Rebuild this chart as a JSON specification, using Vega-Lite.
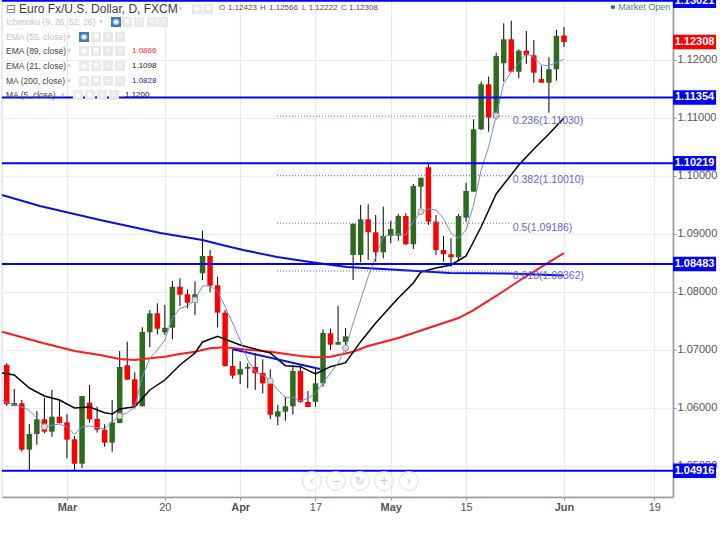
{"$schema":"https://vega.github.io/schema/vega-lite/v6.json","width":671,"height":497,"autosize":"none","padding":{"left":2,"top":0,"right":52,"bottom":46},"background":"white","view":{"stroke":"#dfe3ee","strokeWidth":1.5},"config":{"font":"Liberation Sans"},
"datasets":{
"candles":[
{"i":-8,"o":1.06741,"h":1.0677,"l":1.06034,"c":1.06063},{"i":-7,"o":1.06034,"h":1.06327,"l":1.06034,"c":1.06086},{"i":-6,"o":1.06081,"h":1.06138,"l":1.05246,"c":1.05281},{"i":-5,"o":1.05281,"h":1.05724,"l":1.04926,"c":1.05551},{"i":-4,"o":1.05551,"h":1.05948,"l":1.05367,"c":1.05805},{"i":-3,"o":1.05805,"h":1.06177,"l":1.05564,"c":1.05591},{"i":-2,"o":1.05591,"h":1.0631,"l":1.05505,"c":1.0585},{"i":-1,"o":1.0585,"h":1.06126,"l":1.05736,"c":1.05741},{"i":0,"o":1.05753,"h":1.05891,"l":1.05132,"c":1.05453},{"i":1,"o":1.0546,"h":1.05517,"l":1.04931,"c":1.05039},{"i":2,"o":1.05039,"h":1.06207,"l":1.04965,"c":1.06207},{"i":3,"o":1.06091,"h":1.06396,"l":1.05746,"c":1.05805},{"i":4,"o":1.0581,"h":1.06022,"l":1.05574,"c":1.05626},{"i":5,"o":1.05626,"h":1.05719,"l":1.05332,"c":1.05401},{"i":6,"o":1.05401,"h":1.06138,"l":1.05246,"c":1.05753},{"i":7,"o":1.05741,"h":1.06982,"l":1.05736,"c":1.06707},{"i":8,"o":1.06736,"h":1.07143,"l":1.06488,"c":1.06488},{"i":9,"o":1.06494,"h":1.06615,"l":1.05994,"c":1.06039},{"i":10,"o":1.06029,"h":1.07391,"l":1.06029,"c":1.0731},{"i":11,"o":1.07305,"h":1.07689,"l":1.07046,"c":1.07632},{"i":12,"o":1.07632,"h":1.07805,"l":1.0727,"c":1.07367},{"i":13,"o":1.07305,"h":1.07775,"l":1.07258,"c":1.07384},{"i":14,"o":1.07384,"h":1.08189,"l":1.07184,"c":1.08091},{"i":15,"o":1.08091,"h":1.08236,"l":1.07758,"c":1.07953},{"i":16,"o":1.0796,"h":1.08046,"l":1.07719,"c":1.07815},{"i":17,"o":1.07815,"h":1.08184,"l":1.07603,"c":1.0796},{"i":18,"o":1.08322,"h":1.09056,"l":1.08206,"c":1.0862},{"i":19,"o":1.0862,"h":1.08724,"l":1.07994,"c":1.08108},{"i":20,"o":1.08115,"h":1.08263,"l":1.07391,"c":1.07643},{"i":21,"o":1.07643,"h":1.07689,"l":1.06712,"c":1.06724},{"i":22,"o":1.06724,"h":1.07012,"l":1.06505,"c":1.06557},{"i":23,"o":1.06574,"h":1.06805,"l":1.06413,"c":1.06672},{"i":24,"o":1.06677,"h":1.0677,"l":1.06339,"c":1.06707},{"i":25,"o":1.06707,"h":1.06943,"l":1.0631,"c":1.06598},{"i":26,"o":1.06603,"h":1.06839,"l":1.06253,"c":1.06425},{"i":27,"o":1.06425,"h":1.06667,"l":1.0581,"c":1.05884},{"i":28,"o":1.0585,"h":1.06051,"l":1.05701,"c":1.05943},{"i":29,"o":1.05936,"h":1.06194,"l":1.05781,"c":1.06029},{"i":30,"o":1.06029,"h":1.06736,"l":1.05884,"c":1.06638},{"i":31,"o":1.06638,"h":1.06758,"l":1.06091,"c":1.06103},{"i":32,"o":1.06103,"h":1.06293,"l":1.06017,"c":1.06017},{"i":33,"o":1.06108,"h":1.06684,"l":1.06022,"c":1.06425},{"i":34,"o":1.06425,"h":1.07356,"l":1.06367,"c":1.07293},{"i":35,"o":1.07288,"h":1.07367,"l":1.07,"c":1.07091},{"i":36,"o":1.07091,"h":1.07763,"l":1.07091,"c":1.07138},{"i":37,"o":1.07138,"h":1.07379,"l":1.0697,"c":1.07236},{"i":38,"o":1.08638,"h":1.09177,"l":1.08206,"c":1.09177},{"i":39,"o":1.08638,"h":1.095,"l":1.08512,"c":1.09253},{"i":40,"o":1.09253,"h":1.09512,"l":1.08551,"c":1.09029},{"i":41,"o":1.09029,"h":1.09327,"l":1.08522,"c":1.08684},{"i":42,"o":1.08684,"h":1.0947,"l":1.08581,"c":1.08965},{"i":43,"o":1.08965,"h":1.09229,"l":1.08839,"c":1.09086},{"i":44,"o":1.0897,"h":1.09344,"l":1.08884,"c":1.0931},{"i":45,"o":1.0931,"h":1.09356,"l":1.0881,"c":1.08822},{"i":46,"o":1.08822,"h":1.09862,"l":1.08741,"c":1.09827},{"i":47,"o":1.09815,"h":1.0997,"l":1.09448,"c":1.0997},{"i":48,"o":1.1015,"h":1.10206,"l":1.09155,"c":1.09212},{"i":49,"o":1.09212,"h":1.09327,"l":1.08638,"c":1.08724},{"i":50,"o":1.08724,"h":1.08965,"l":1.08522,"c":1.0865},{"i":51,"o":1.0865,"h":1.08925,"l":1.08436,"c":1.08598},{"i":52,"o":1.08598,"h":1.09344,"l":1.08534,"c":1.0931},{"i":53,"o":1.09281,"h":1.09884,"l":1.09212,"c":1.09741},{"i":54,"o":1.09729,"h":1.10977,"l":1.09729,"c":1.10805},{"i":55,"o":1.10805,"h":1.11625,"l":1.10793,"c":1.11581},{"i":56,"o":1.11581,"h":1.11712,"l":1.10763,"c":1.11005},{"i":57,"o":1.11005,"h":1.12125,"l":1.10977,"c":1.12068},{"i":58,"o":1.11943,"h":1.12632,"l":1.11625,"c":1.12356},{"i":59,"o":1.12356,"h":1.12677,"l":1.11798,"c":1.11798},{"i":60,"o":1.11798,"h":1.12184,"l":1.11684,"c":1.1216},{"i":61,"o":1.1216,"h":1.125,"l":1.11931,"c":1.12081},{"i":62,"o":1.12081,"h":1.12344,"l":1.11608,"c":1.11781},{"i":63,"o":1.11672,"h":1.11901,"l":1.11608,"c":1.11608},{"i":64,"o":1.11608,"h":1.12046,"l":1.11091,"c":1.11839},{"i":65,"o":1.11839,"h":1.12517,"l":1.11643,"c":1.12418},{"i":66,"o":1.12423,"h":1.12566,"l":1.12222,"c":1.12308}],
"lines":[
{"series":"EMA 89","i":-8.63,"p":1.07315},{"series":"EMA 89","i":-3.2,"p":1.0712},{"series":"EMA 89","i":1,"p":1.06982},{"series":"EMA 89","i":4.4,"p":1.06913},{"series":"EMA 89","i":7,"p":1.06844},{"series":"EMA 89","i":9,"p":1.06827},{"series":"EMA 89","i":11,"p":1.06856},{"series":"EMA 89","i":13,"p":1.06884},{"series":"EMA 89","i":15,"p":1.06931},{"series":"EMA 89","i":17,"p":1.0697},{"series":"EMA 89","i":19,"p":1.07029},{"series":"EMA 89","i":21,"p":1.07046},{"series":"EMA 89","i":23,"p":1.07017},{"series":"EMA 89","i":27,"p":1.0697},{"series":"EMA 89","i":31,"p":1.06896},{"series":"EMA 89","i":33,"p":1.06874},{"series":"EMA 89","i":35,"p":1.06884},{"series":"EMA 89","i":38,"p":1.0697},{"series":"EMA 89","i":40,"p":1.07068},{"series":"EMA 89","i":44,"p":1.07206},{"series":"EMA 89","i":48,"p":1.07379},{"series":"EMA 89","i":52,"p":1.07551},{"series":"EMA 89","i":54,"p":1.07689},{"series":"EMA 89","i":57,"p":1.07931},{"series":"EMA 89","i":60,"p":1.08189},{"series":"EMA 89","i":63,"p":1.08431},{"series":"EMA 89","i":66,"p":1.08672},
{"series":"EMA 21","i":-8.63,"p":1.06603},{"series":"EMA 21","i":-7,"p":1.06568},{"series":"EMA 21","i":-5,"p":1.06344},{"series":"EMA 21","i":-3,"p":1.06207},{"series":"EMA 21","i":-1,"p":1.06138},{"series":"EMA 21","i":1,"p":1.06},{"series":"EMA 21","i":3,"p":1.06017},{"series":"EMA 21","i":5,"p":1.05919},{"series":"EMA 21","i":6,"p":1.05896},{"series":"EMA 21","i":7,"p":1.05982},{"series":"EMA 21","i":9,"p":1.06022},{"series":"EMA 21","i":11,"p":1.0631},{"series":"EMA 21","i":13,"p":1.06482},{"series":"EMA 21","i":15,"p":1.06741},{"series":"EMA 21","i":17,"p":1.06948},{"series":"EMA 21","i":18,"p":1.07138},{"series":"EMA 21","i":20,"p":1.07236},{"series":"EMA 21","i":23,"p":1.07086},{"series":"EMA 21","i":27,"p":1.06948},{"series":"EMA 21","i":29,"p":1.06729},{"series":"EMA 21","i":31,"p":1.06712},{"series":"EMA 21","i":33,"p":1.06586},{"series":"EMA 21","i":35,"p":1.06712},{"series":"EMA 21","i":37,"p":1.06781},{"series":"EMA 21","i":39,"p":1.07143},{"series":"EMA 21","i":41,"p":1.07465},{"series":"EMA 21","i":44,"p":1.07896},{"series":"EMA 21","i":46,"p":1.08155},{"series":"EMA 21","i":47,"p":1.08344},{"series":"EMA 21","i":49,"p":1.08413},{"series":"EMA 21","i":51,"p":1.08465},{"series":"EMA 21","i":53,"p":1.0862},{"series":"EMA 21","i":55,"p":1.09125},{"series":"EMA 21","i":57,"p":1.09689},{"series":"EMA 21","i":60,"p":1.10189},{"series":"EMA 21","i":62,"p":1.10465},{"series":"EMA 21","i":64,"p":1.10724},{"series":"EMA 21","i":66,"p":1.11},
{"series":"MA 200","i":-8.63,"p":1.09672},{"series":"MA 200","i":-3.6,"p":1.09482},{"series":"MA 200","i":4.4,"p":1.09241},{"series":"MA 200","i":12.4,"p":1.09017},{"series":"MA 200","i":18,"p":1.08896},{"series":"MA 200","i":20.6,"p":1.0881},{"series":"MA 200","i":23.4,"p":1.08724},{"series":"MA 200","i":27.9,"p":1.08603},{"series":"MA 200","i":33.2,"p":1.085},{"series":"MA 200","i":37.2,"p":1.08431},{"series":"MA 200","i":44.2,"p":1.08379},{"series":"MA 200","i":50.9,"p":1.08327},{"series":"MA 200","i":58.4,"p":1.0832},{"series":"MA 200","i":66,"p":1.08282},
{"series":"Trend","i":22.05,"p":1.07012},{"series":"Trend","i":33.6,"p":1.06672},
{"series":"MA 5","i":-8.63,"p":1.06138},{"series":"MA 5","i":-8,"p":1.06091},{"series":"MA 5","i":-5.6,"p":1.06},{"series":"MA 5","i":-5,"p":1.05953},{"series":"MA 5","i":-4,"p":1.05827},{"series":"MA 5","i":-3,"p":1.05677},{"series":"MA 5","i":-1,"p":1.05724},{"series":"MA 5","i":0,"p":1.05677},{"series":"MA 5","i":1,"p":1.05546},{"series":"MA 5","i":2,"p":1.05677},{"series":"MA 5","i":3,"p":1.05689},{"series":"MA 5","i":5,"p":1.05638},{"series":"MA 5","i":6,"p":1.05764},{"series":"MA 5","i":7,"p":1.05862},{"series":"MA 5","i":8,"p":1.05919},{"series":"MA 5","i":9,"p":1.06012},{"series":"MA 5","i":10,"p":1.06539},{"series":"MA 5","i":11,"p":1.06856},{"series":"MA 5","i":12,"p":1.07},{"series":"MA 5","i":13,"p":1.07172},{"series":"MA 5","i":14,"p":1.07546},{"series":"MA 5","i":15,"p":1.07719},{"series":"MA 5","i":16,"p":1.07758},{"series":"MA 5","i":17,"p":1.07862},{"series":"MA 5","i":18,"p":1.08103},{"series":"MA 5","i":19,"p":1.08103},{"series":"MA 5","i":20,"p":1.08005},{"series":"MA 5","i":21,"p":1.07746},{"series":"MA 5","i":22,"p":1.07465},{"series":"MA 5","i":23,"p":1.07172},{"series":"MA 5","i":24,"p":1.06827},{"series":"MA 5","i":25,"p":1.06625},{"series":"MA 5","i":26,"p":1.06568},{"series":"MA 5","i":27,"p":1.06465},{"series":"MA 5","i":28,"p":1.0631},{"series":"MA 5","i":29,"p":1.06184},{"series":"MA 5","i":30,"p":1.06184},{"series":"MA 5","i":31,"p":1.0612},{"series":"MA 5","i":32,"p":1.06167},{"series":"MA 5","i":33,"p":1.06253},{"series":"MA 5","i":34,"p":1.06431},{"series":"MA 5","i":35,"p":1.06603},{"series":"MA 5","i":36,"p":1.06775},{"series":"MA 5","i":37,"p":1.07034},{"series":"MA 5","i":38,"p":1.0746},{"series":"MA 5","i":39,"p":1.07862},{"series":"MA 5","i":40,"p":1.08263},{"series":"MA 5","i":41,"p":1.08608},{"series":"MA 5","i":42,"p":1.08953},{"series":"MA 5","i":43,"p":1.08982},{"series":"MA 5","i":44,"p":1.09},{"series":"MA 5","i":45,"p":1.08982},{"series":"MA 5","i":46,"p":1.09212},{"series":"MA 5","i":47,"p":1.09384},{"series":"MA 5","i":48,"p":1.09431},{"series":"MA 5","i":49,"p":1.09413},{"series":"MA 5","i":50,"p":1.0927},{"series":"MA 5","i":51,"p":1.09012},{"series":"MA 5","i":52,"p":1.08925},{"series":"MA 5","i":53,"p":1.09069},{"series":"MA 5","i":54,"p":1.095},{"series":"MA 5","i":55,"p":1.10103},{"series":"MA 5","i":56,"p":1.10505},{"series":"MA 5","i":57,"p":1.11039},{"series":"MA 5","i":58,"p":1.11598},{"series":"MA 5","i":59,"p":1.11798},{"series":"MA 5","i":60,"p":1.11943},{"series":"MA 5","i":61,"p":1.12115},{"series":"MA 5","i":62,"p":1.12046},{"series":"MA 5","i":63,"p":1.11913},{"series":"MA 5","i":64,"p":1.11901},{"series":"MA 5","i":65,"p":1.11953},{"series":"MA 5","i":66,"p":1.12012}],
"levels":[{"p":1.13021,"label":"1.13021"},{"p":1.11354,"label":"1.11354"},{"p":1.10219,"label":"1.10219"},{"p":1.08483,"label":"1.08483"},{"p":1.04916,"label":"1.04916"}],
"fibs":[{"p":1.1103,"label":"0.236(1.11030)"},{"p":1.1001,"label":"0.382(1.10010)"},{"p":1.09186,"label":"0.5(1.09186)"},{"p":1.08362,"label":"0.618(1.08362)"}],
"rows":[{"label":"Ichimoku (9, 26, 52, 26)","i":-8.1,"p":1.12655,"on":false},{"label":"EMA (55, close)","i":-8.1,"p":1.12396,"on":false},{"label":"EMA (89, close)","i":-8.1,"p":1.12155,"on":true},{"label":"EMA (21, close)","i":-8.1,"p":1.11896,"on":true},{"label":"MA (200, close)","i":-8.1,"p":1.11637,"on":true},{"label":"MA (5, close)","i":-8.1,"p":1.11396,"on":true}],
"values":[{"series":"EMA 89","label":"1.0866","i":8.63,"p":1.12155},{"series":"EMA 21","label":"1.1098","i":8.63,"p":1.11896},{"series":"MA 200","label":"1.0828","i":8.63,"p":1.11637},{"series":"MA 5","label":"1.1200","i":7.7,"p":1.11396}],
"ohlc":[{"label":"O","i":20.19,"p":1.12895,"kind":"key"},{"label":"1.12423","i":21.38,"p":1.12895,"kind":"val"},{"label":"H","i":25.63,"p":1.12895,"kind":"key"},{"label":"1.12566","i":26.83,"p":1.12895,"kind":"val"},{"label":"L","i":31.2,"p":1.12895,"kind":"key"},{"label":"1.12222","i":32.1,"p":1.12895,"kind":"val"},{"label":"C","i":36.4,"p":1.12895,"kind":"key"},{"label":"1.12308","i":37.45,"p":1.12895,"kind":"val"}],
"icons":[{"i":17.26,"p":1.12879,"g":"◉"},{"i":18.73,"p":1.12879,"g":"✹"},
{"i":6.51,"p":1.12655,"g":"◉","on":true},{"i":7.97,"p":1.12655,"g":"✹"},{"i":9.56,"p":1.12655,"g":"()"},{"i":11.29,"p":1.12655,"g":"+"},{"i":12.75,"p":1.12655,"g":"×"},
{"i":2.26,"p":1.12396,"g":"◉","on":true},{"i":3.85,"p":1.12396,"g":"✹"},{"i":5.44,"p":1.12396,"g":"+"},{"i":7.04,"p":1.12396,"g":"×"},
{"i":2.26,"p":1.12155,"g":"◉"},{"i":3.85,"p":1.12155,"g":"✹"},{"i":5.44,"p":1.12155,"g":"+"},{"i":7.04,"p":1.12155,"g":"×"},
{"i":2.26,"p":1.11896,"g":"◉"},{"i":3.85,"p":1.11896,"g":"✹"},{"i":5.44,"p":1.11896,"g":"+"},{"i":7.04,"p":1.11896,"g":"×"},
{"i":2.26,"p":1.11637,"g":"◉"},{"i":3.85,"p":1.11637,"g":"✹"},{"i":5.44,"p":1.11637,"g":"+"},{"i":7.04,"p":1.11637,"g":"×"},
{"i":1.46,"p":1.11396,"g":"◉"},{"i":3.05,"p":1.11396,"g":"✹"},{"i":4.65,"p":1.11396,"g":"+"},{"i":6.24,"p":1.11396,"g":"×"}],
"arrows":[{"i":15.1,"p":1.12879},{"i":4.52,"p":1.12655},{"i":0.27,"p":1.12396},{"i":0.27,"p":1.12155},{"i":0.27,"p":1.11896},{"i":0.27,"p":1.11637},{"i":-0.53,"p":1.11396}],
"nav":[{"i":32.5,"p":1.04741,"g":"‹"},{"i":35.7,"p":1.04741,"g":"−"},{"i":38.9,"p":1.04741,"g":"↻"},{"i":42.1,"p":1.04741,"g":"+"},{"i":45.4,"p":1.04741,"g":"›"}]
},
"layer":[
{"data":{"name":"candles"},"mark":{"type":"rule","color":"#000","strokeWidth":1},"encoding":{
"x":{"field":"i","type":"quantitative","scale":{"domain":[-8.63,80.48],"nice":false,"zero":false,"padding":0},"axis":{"title":null,"orient":"bottom","values":[0,13,23,33,43,53,66,78],"labelExpr":"{'0':'Mar','13':'20','23':'Apr','33':'17','43':'May','53':'15','66':'Jun','78':'19'}[datum.value]","labelFontWeight":{"condition":{"test":"indexof([0,23,43,66],datum.value)>=0","value":"bold"},"value":"normal"},"labelColor":"#555","labelFontSize":11,"labelPadding":1,"labelOverlap":false,"tickColor":"#999","tickSize":3,"domainColor":"#999","domainWidth":1.5,"grid":true,"gridColor":"#e8e8e8","gridWidth":1.2}},
"y":{"field":"l","type":"quantitative","scale":{"domain":[1.04465,1.13034],"nice":false,"zero":false},"axis":{"title":null,"orient":"right","values":[1.05,1.055,1.06,1.065,1.07,1.075,1.08,1.085,1.09,1.095,1.1,1.105,1.11,1.115,1.12,1.125],"format":".5f","labelColor":"#555","labelFontSize":11,"labelPadding":1,"labelOverlap":false,"tickColor":"#999","tickSize":3,"domainColor":"#999","domainWidth":1.5,"grid":true,"gridColor":"#ececec","gridWidth":1.2}},
"y2":{"field":"h"}}},
{"data":{"name":"candles"},"mark":{"type":"bar","orient":"vertical","size":5.5},"encoding":{
"x":{"field":"i","type":"quantitative"},
"y":{"field":"o","type":"quantitative"},"y2":{"field":"c"},
"color":{"condition":{"test":"datum.c>=datum.o","value":"#2e6b1f"},"value":"#ff0000"}}},
{"data":{"name":"lines"},"transform":[{"filter":"datum.series!='MA 5'"}],"mark":{"type":"line","interpolate":"linear"},"encoding":{
"x":{"field":"i","type":"quantitative"},"y":{"field":"p","type":"quantitative"},
"strokeWidth":{"condition":{"test":"datum.series=='EMA 21'","value":1.5},"value":2},
"color":{"field":"series","type":"nominal","legend":null,"scale":{"domain":["EMA 89","EMA 21","MA 200","Trend","MA 5"],"range":["#ff1a1a","#000000","#0b10e0","#0b10e0","#6f8fd6"]}}}},
{"data":{"name":"lines"},"transform":[{"filter":"datum.series=='MA 5'"}],"mark":{"type":"line","strokeWidth":1,"color":"#6f8fd6"},"encoding":{
"x":{"field":"i","type":"quantitative"},"y":{"field":"p","type":"quantitative"}}},
{"data":{"name":"lines"},"transform":[{"filter":"datum.series=='MA 5'"},{"filter":{"field":"i","oneOf":[-3,7,17,27,37,47,57]}}],"mark":{"type":"point","filled":true,"fill":"#dcdcdc","stroke":"#999","strokeWidth":1,"size":36,"opacity":1},"encoding":{
"x":{"field":"i","type":"quantitative"},"y":{"field":"p","type":"quantitative"}}},
{"data":{"name":"fibs"},"mark":{"type":"rule","color":"#5a5af0","strokeWidth":1,"strokeDash":[1,2]},"encoding":{
"x":{"datum":27.9,"type":"quantitative"},"x2":{"datum":59},"y":{"field":"p","type":"quantitative"}}},
{"data":{"name":"fibs"},"mark":{"type":"text","align":"left","baseline":"middle","dy":5,"color":"#5f5ff0","fontSize":10.5},"encoding":{
"x":{"datum":59.2,"type":"quantitative"},"y":{"field":"p","type":"quantitative"},"text":{"field":"label"}}},
{"data":{"name":"levels"},"mark":{"type":"rule","color":"#0000ff","strokeWidth":2},"encoding":{
"x":{"datum":-8.63,"type":"quantitative"},"x2":{"datum":80.48},"y":{"field":"p","type":"quantitative"}}},
{"data":{"name":"levels"},"mark":{"type":"rule","color":"#0000ff","strokeWidth":14.5,"clip":false},"encoding":{
"x":{"datum":80.48,"type":"quantitative"},"x2":{"datum":86.2},"y":{"field":"p","type":"quantitative"}}},
{"data":{"name":"levels"},"mark":{"type":"text","color":"white","fontSize":11,"fontWeight":"bold","align":"center","baseline":"middle"},"encoding":{
"x":{"datum":83.34,"type":"quantitative"},"y":{"field":"p","type":"quantitative"},"text":{"field":"label"}}},
{"data":{"values":[{"p":1.12308,"label":"1.12308"}]},"mark":{"type":"rule","color":"#ff0000","strokeWidth":14.5},"encoding":{
"x":{"datum":80.48,"type":"quantitative"},"x2":{"datum":86.2},"y":{"field":"p","type":"quantitative"}}},
{"data":{"values":[{"p":1.12308,"label":"1.12308"}]},"mark":{"type":"text","color":"white","fontSize":11,"fontWeight":"bold","align":"center","baseline":"middle"},"encoding":{
"x":{"datum":83.34,"type":"quantitative"},"y":{"field":"p","type":"quantitative"},"text":{"field":"label"}}},
{"data":{"values":[{"label":"Euro Fx/U.S. Dollar, D, FXCM","i":-6.37,"p":1.12879}]},"mark":{"type":"text","align":"left","baseline":"middle","fontSize":12,"color":"#3a3a3a"},"encoding":{
"x":{"field":"i","type":"quantitative"},"y":{"field":"p","type":"quantitative"},"text":{"field":"label"}}},
{"data":{"values":[{"label":"⊟","i":-7.44,"p":1.12879}]},"mark":{"type":"text","align":"center","baseline":"middle","fontSize":12,"font":"DejaVu Sans","color":"#777"},"encoding":{
"x":{"field":"i","type":"quantitative"},"y":{"field":"p","type":"quantitative"},"text":{"field":"label"}}},
{"data":{"name":"rows"},"mark":{"type":"text","align":"left","baseline":"middle","fontSize":8.5},"encoding":{
"x":{"field":"i","type":"quantitative"},"y":{"field":"p","type":"quantitative"},"text":{"field":"label"},
"color":{"condition":{"test":"datum.on","value":"#444"},"value":"#c4c4c4"}}},
{"data":{"name":"values"},"mark":{"type":"text","align":"left","baseline":"middle","fontSize":8},"encoding":{
"x":{"field":"i","type":"quantitative"},"y":{"field":"p","type":"quantitative"},"text":{"field":"label"},
"color":{"condition":[{"test":"datum.series=='EMA 89'","value":"#ff1a1a"},{"test":"datum.series=='MA 200'","value":"#2020e8"}],"value":"#222"}}},
{"data":{"name":"ohlc"},"mark":{"type":"text","align":"left","baseline":"middle","fontSize":8},"encoding":{
"x":{"field":"i","type":"quantitative"},"y":{"field":"p","type":"quantitative"},"text":{"field":"label"},
"color":{"condition":{"test":"datum.kind=='key'","value":"#555"},"value":"#6e3b3b"}}},
{"data":{"name":"arrows"},"mark":{"type":"point","shape":"triangle-down","filled":true,"color":"#c8c8c8","size":14,"opacity":1},"encoding":{
"x":{"field":"i","type":"quantitative"},"y":{"field":"p","type":"quantitative"}}},
{"data":{"name":"icons"},"mark":{"type":"point","shape":"square","filled":true,"size":100,"opacity":1},"encoding":{
"x":{"field":"i","type":"quantitative"},"y":{"field":"p","type":"quantitative"},
"color":{"condition":{"test":"datum.on","value":"#3f77c9"},"value":"#e9e9e9"}}},
{"data":{"name":"icons"},"mark":{"type":"text","align":"center","baseline":"middle","fontSize":8,"font":"DejaVu Sans","color":"white"},"encoding":{
"x":{"field":"i","type":"quantitative"},"y":{"field":"p","type":"quantitative"},"text":{"field":"g"}}},
{"data":{"values":[{"i":72.5,"p":1.12913}]},"mark":{"type":"point","shape":"circle","filled":true,"color":"#1f7a50","size":18,"opacity":1},"encoding":{
"x":{"field":"i","type":"quantitative"},"y":{"field":"p","type":"quantitative"}}},
{"data":{"values":[{"label":"Market Open","i":73.2,"p":1.12913}]},"mark":{"type":"text","align":"left","baseline":"middle","fontSize":9,"color":"#3f8a6c"},"encoding":{
"x":{"field":"i","type":"quantitative"},"y":{"field":"p","type":"quantitative"},"text":{"field":"label"}}},
{"data":{"name":"nav"},"mark":{"type":"point","shape":"circle","fill":"#ffffff","fillOpacity":0.4,"stroke":"#dddddd","strokeWidth":1,"size":361,"opacity":1},"encoding":{
"x":{"field":"i","type":"quantitative"},"y":{"field":"p","type":"quantitative"}}},
{"data":{"name":"nav"},"mark":{"type":"text","align":"center","baseline":"middle","fontSize":12,"font":"DejaVu Sans","color":"#cccccc"},"encoding":{
"x":{"field":"i","type":"quantitative"},"y":{"field":"p","type":"quantitative"},"text":{"field":"g"}}}
]}
